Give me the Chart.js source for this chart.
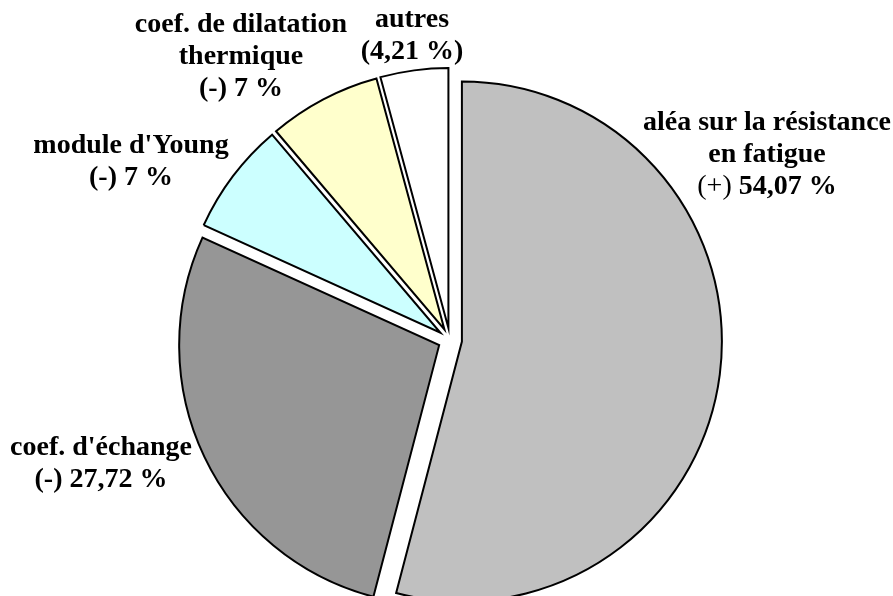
<!DOCTYPE html>
<html>
<head>
<meta charset="utf-8">
<script src="https://cdn.jsdelivr.net/npm/chart.js@4.4.0/dist/chart.umd.min.js"></script>
<style>
  html, body { margin: 0; padding: 0; background: #fff; }
  #wrap { width: 893px; height: 596px; }
</style>
</head>
<body>
<div id="wrap"><canvas id="sensib"></canvas></div>
<script>
var categories = ["aléa sur la résistance en fatigue", "coef. d'échange", "module d'Young", "coef. de dilatation thermique", "autres"];
var shares = [54.07, 27.72, 7, 7, 4.21];
var signs = ["(+)", "(-)", "(-)", "(-)", ""];
var shareText = ["54,07 %", "27,72 %", "7 %", "7 %", "(4,21 %)"];
var sliceColors = ["#c0c0c0", "#969696", "#ccffff", "#ffffcc", "#ffffff"];

// label blocks: lines of name, then sign + value; x centre and first baseline
var labelLines = [
  ["aléa sur la résistance", "en fatigue"],
  ["coef. d'échange"],
  ["module d'Young"],
  ["coef. de dilatation", "thermique"],
  ["autres"]
];
var labelPos = [[767, 130], [101, 455], [131, 153], [241, 32], [412, 27]];

var fontB = "bold 28px 'Liberation Serif', 'Times New Roman', serif";
var fontN = "28px 'Liberation Serif', 'Times New Roman', serif";
var lineH = 32;
var explode = 12;

// pull every slice out by the same distance, keeping its radius
var explodedPie = {
  id: "explodedPie",
  beforeDatasetDraw: function(chart, args) {
    var ctx = chart.ctx;
    args.meta.data.forEach(function(arc) {
      var mid = (arc.startAngle + arc.endAngle) / 2;
      ctx.save();
      ctx.translate(Math.cos(mid) * explode, Math.sin(mid) * explode);
      arc.draw(ctx, chart.chartArea);
      ctx.restore();
    });
    return false;
  }
};

var pieLabels = {
  id: "pieLabels",
  afterDraw: function(chart) {
    var ctx = chart.ctx;
    ctx.save();
    ctx.fillStyle = "#000";
    ctx.textBaseline = "alphabetic";
    for (var i = 0; i < categories.length; i++) {
      var x = labelPos[i][0], y = labelPos[i][1];
      ctx.font = fontB;
      ctx.textAlign = "center";
      labelLines[i].forEach(function(t, k) { ctx.fillText(t, x, y + k * lineH); });
      var yl = y + labelLines[i].length * lineH;
      if (i === 0) {
        // the plus sign is set in regular weight
        ctx.font = fontN;
        var s1 = signs[i] + " ";
        var w1 = ctx.measureText(s1).width;
        ctx.font = fontB;
        var w2 = ctx.measureText(shareText[i]).width;
        var x0 = x - (w1 + w2) / 2;
        ctx.textAlign = "left";
        ctx.font = fontN;
        ctx.fillText(s1, x0, yl);
        ctx.font = fontB;
        ctx.fillText(shareText[i], x0 + w1, yl);
      } else {
        var t = signs[i] ? signs[i] + " " + shareText[i] : shareText[i];
        ctx.fillText(t, x, yl);
      }
    }
    ctx.restore();
  }
};

new Chart("sensib", {
  type: "pie",
  data: {
    labels: categories,
    datasets: [{
      data: shares,
      backgroundColor: sliceColors,
      borderColor: "#000",
      borderWidth: 2,
      borderJoinStyle: "miter",
      offset: 0,
      hoverOffset: 0
    }]
  },
  options: {
    responsive: true,
    maintainAspectRatio: false,
    animation: false,
    radius: 260,
    layout: { padding: { left: 7, right: 0, top: 84, bottom: 0 } },
    plugins: {
      legend: { display: false },
      tooltip: { enabled: false }
    }
  },
  plugins: [explodedPie, pieLabels]
});
</script>
</body>
</html>
